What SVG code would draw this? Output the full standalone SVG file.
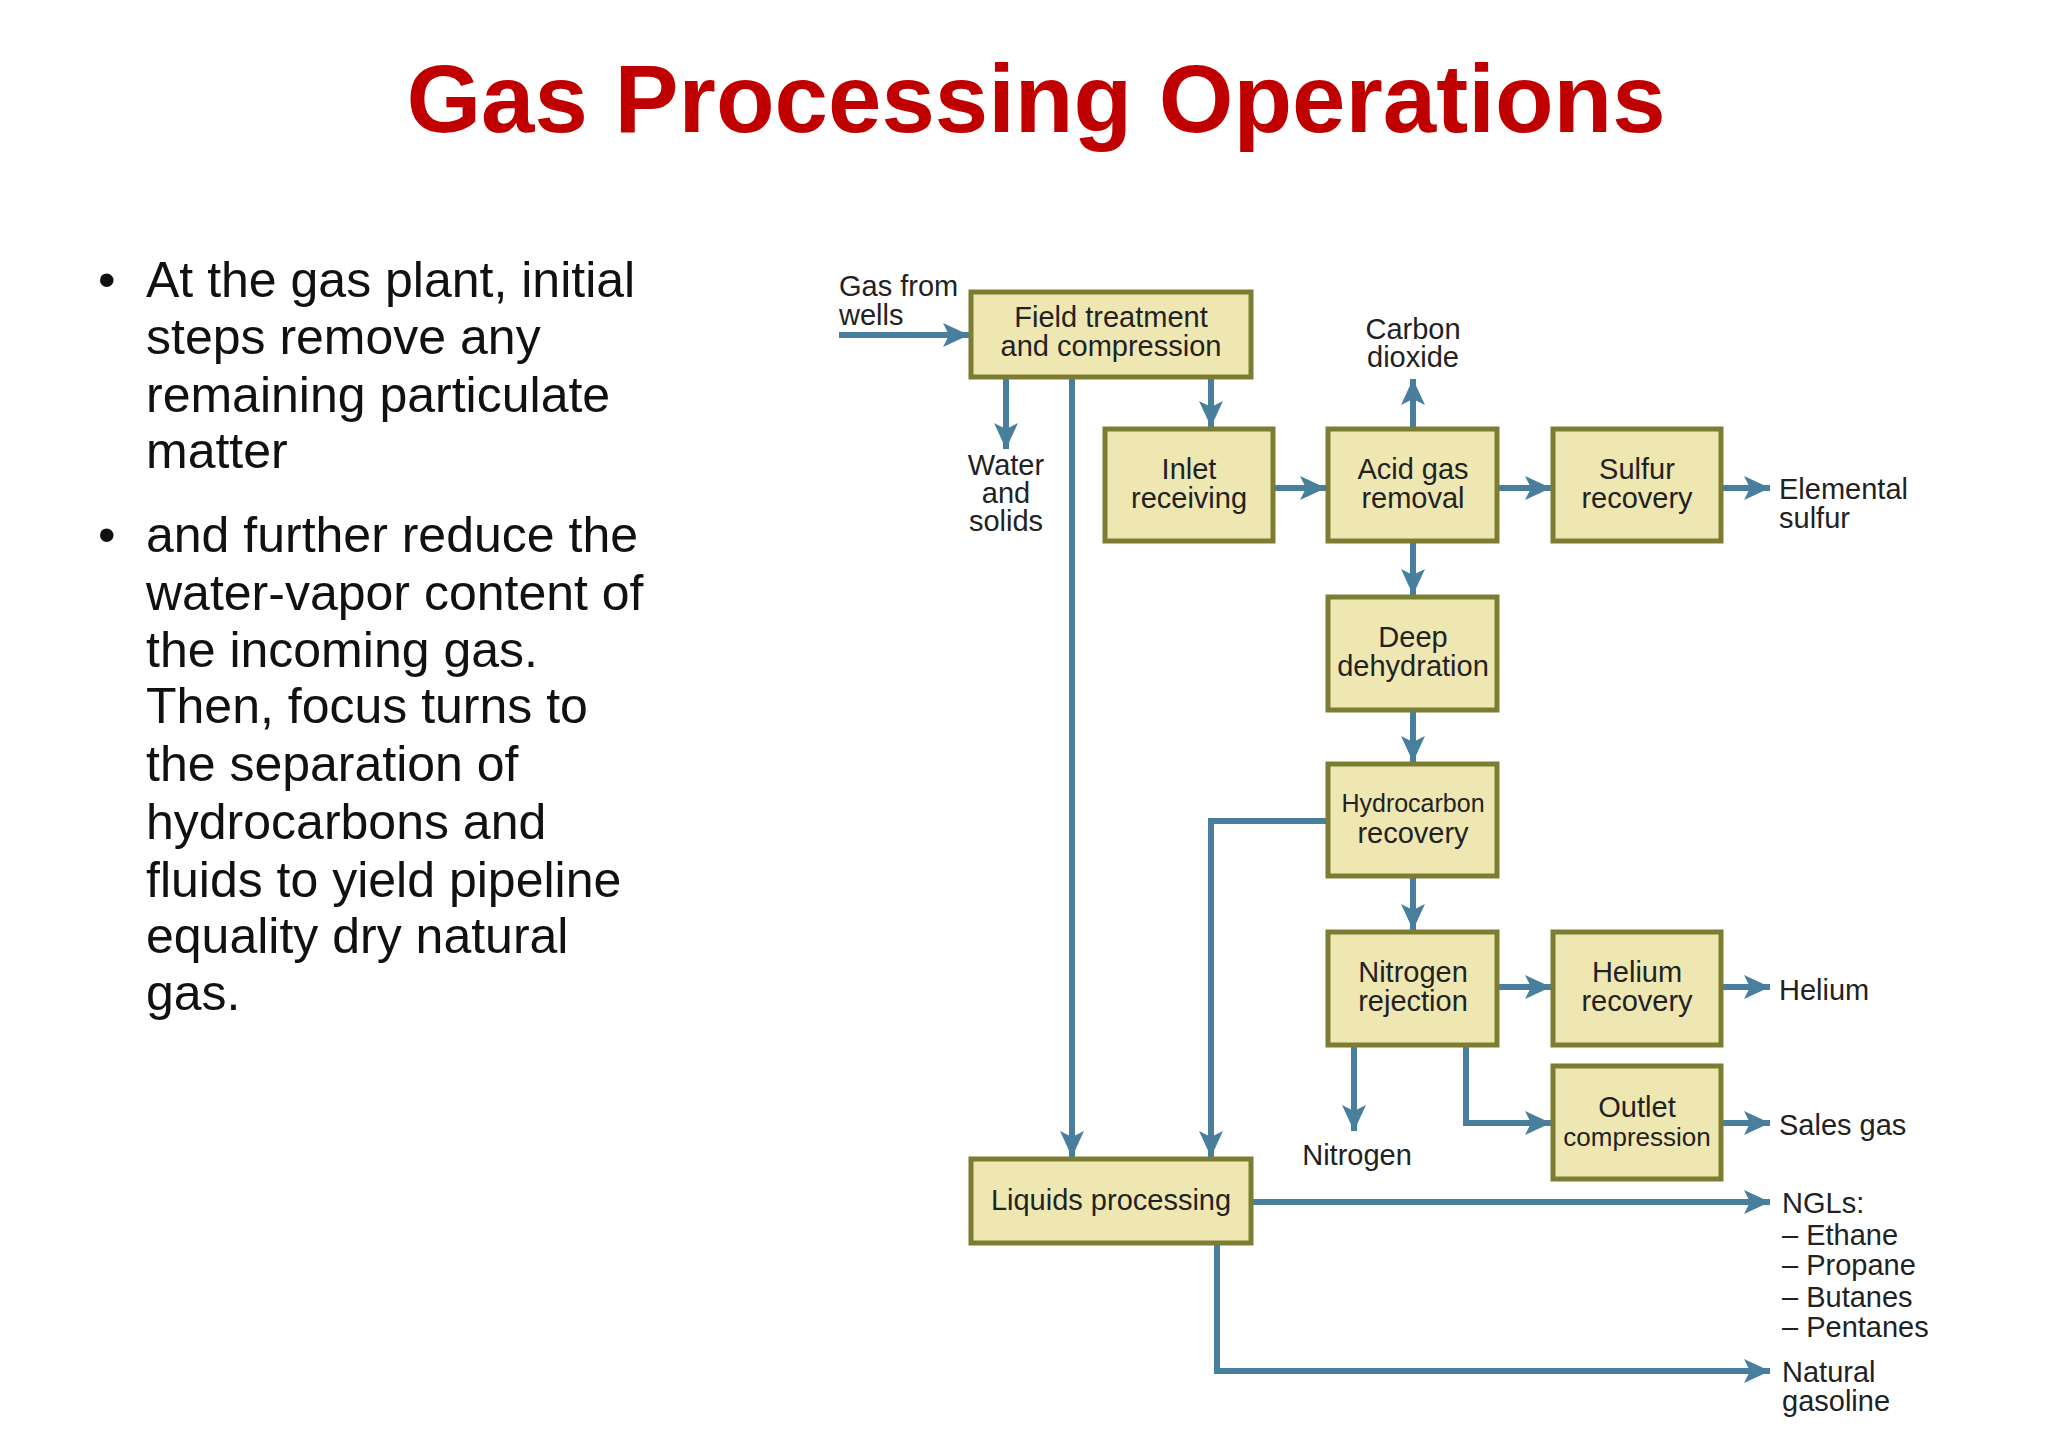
<svg xmlns="http://www.w3.org/2000/svg" width="2048" height="1447" viewBox="0 0 2048 1447">
<style>
.t{font-family:"Liberation Sans",Arial,sans-serif;fill:#111}
.bul{font-size:50px}
.box rect{fill:#efe7b2;stroke:#7c7c33;stroke-width:5}
.bt{font-size:29px;text-anchor:middle;fill:#222}
.lb{font-size:29px;fill:#222}
.c path{fill:none;stroke:#477f9d;stroke-width:6;marker-end:url(#a)}
</style>
<defs>
<marker id="a" markerUnits="userSpaceOnUse" markerWidth="28" markerHeight="28" refX="26" refY="14" orient="auto">
<path d="M0,2 L26,14 L0,26 L6,14 Z" fill="#477f9d"/>
</marker>
</defs>
<rect width="2048" height="1447" fill="#fff"/>
<text x="1036" y="132" text-anchor="middle" font-family="Liberation Sans,Arial,sans-serif" font-weight="bold" font-size="96" fill="#c00000">Gas Processing Operations</text>
<g class="t bul">
<text x="98" y="297">•</text>
<text x="146" y="297">At the gas plant, initial</text>
<text x="146" y="354">steps remove any</text>
<text x="146" y="412">remaining particulate</text>
<text x="146" y="468">matter</text>
<text x="98" y="552">•</text>
<text x="146" y="552">and further reduce the</text>
<text x="146" y="610">water-vapor content of</text>
<text x="146" y="667">the incoming gas.</text>
<text x="146" y="723">Then, focus turns to</text>
<text x="146" y="781">the separation of</text>
<text x="146" y="839">hydrocarbons and</text>
<text x="146" y="897">fluids to yield pipeline</text>
<text x="146" y="953">equality dry natural</text>
<text x="146" y="1010">gas.</text>
</g>
<g class="c" id="connectors">
<path d="M839,335 H969"/>
<path d="M1006,377 V449"/>
<path d="M1211,377 V427"/>
<path d="M1072,377 V1157"/>
<path d="M1273,488 H1326"/>
<path d="M1413,429 V379"/>
<path d="M1497,488 H1551"/>
<path d="M1721,488 H1770"/>
<path d="M1413,541 V595"/>
<path d="M1413,710 V762"/>
<path d="M1328,821 H1211 V1157"/>
<path d="M1413,876 V930"/>
<path d="M1497,987 H1551"/>
<path d="M1721,987 H1770"/>
<path d="M1354,1045 V1131"/>
<path d="M1466,1045 V1123 H1551"/>
<path d="M1721,1123 H1770"/>
<path d="M1251,1202 H1770"/>
<path d="M1217,1243 V1371 H1770"/>
</g>
<g id="field" class="box"><rect x="971" y="292" width="280" height="85"/><text class="t bt" x="1111" y="327">Field treatment</text><text class="t bt" x="1111" y="356">and compression</text></g>
<g id="inlet" class="box"><rect x="1105" y="429" width="168" height="112"/><text class="t bt" x="1189" y="479">Inlet</text><text class="t bt" x="1189" y="508">receiving</text></g>
<g id="acid" class="box"><rect x="1328" y="429" width="169" height="112"/><text class="t bt" x="1413" y="479">Acid gas</text><text class="t bt" x="1413" y="508">removal</text></g>
<g id="sulfur" class="box"><rect x="1553" y="429" width="168" height="112"/><text class="t bt" x="1637" y="479">Sulfur</text><text class="t bt" x="1637" y="508">recovery</text></g>
<g id="deep" class="box"><rect x="1328" y="597" width="169" height="113"/><text class="t bt" x="1413" y="647">Deep</text><text class="t bt" x="1413" y="676">dehydration</text></g>
<g id="hydro" class="box"><rect x="1328" y="764" width="169" height="112"/><text class="t bt" x="1413" y="812" style="font-size:25px">Hydrocarbon</text><text class="t bt" x="1413" y="843">recovery</text></g>
<g id="nitrogen" class="box"><rect x="1328" y="932" width="169" height="113"/><text class="t bt" x="1413" y="982">Nitrogen</text><text class="t bt" x="1413" y="1011">rejection</text></g>
<g id="helium" class="box"><rect x="1553" y="932" width="168" height="113"/><text class="t bt" x="1637" y="982">Helium</text><text class="t bt" x="1637" y="1011">recovery</text></g>
<g id="outlet" class="box"><rect x="1553" y="1066" width="168" height="113"/><text class="t bt" x="1637" y="1117">Outlet</text><text class="t bt" x="1637" y="1146" style="font-size:26px">compression</text></g>
<g id="liquids" class="box"><rect x="971" y="1159" width="280" height="84"/><text class="t bt" x="1111" y="1210">Liquids processing</text></g>
<g class="t lb">
<text x="839" y="296">Gas from</text><text x="839" y="325">wells</text>
<text x="1413" y="339" text-anchor="middle">Carbon</text><text x="1413" y="367" text-anchor="middle">dioxide</text>
<text x="1006" y="475" text-anchor="middle">Water</text><text x="1006" y="503" text-anchor="middle">and</text><text x="1006" y="531" text-anchor="middle">solids</text>
<text x="1779" y="499">Elemental</text><text x="1779" y="528">sulfur</text>
<text x="1779" y="1000">Helium</text>
<text x="1779" y="1135">Sales gas</text>
<text x="1357" y="1165" text-anchor="middle">Nitrogen</text>
<text x="1782" y="1213">NGLs:</text>
<text x="1782" y="1245">– Ethane</text>
<text x="1782" y="1275">– Propane</text>
<text x="1782" y="1307">– Butanes</text>
<text x="1782" y="1337">– Pentanes</text>
<text x="1782" y="1382">Natural</text><text x="1782" y="1411">gasoline</text>
</g>
</svg>
